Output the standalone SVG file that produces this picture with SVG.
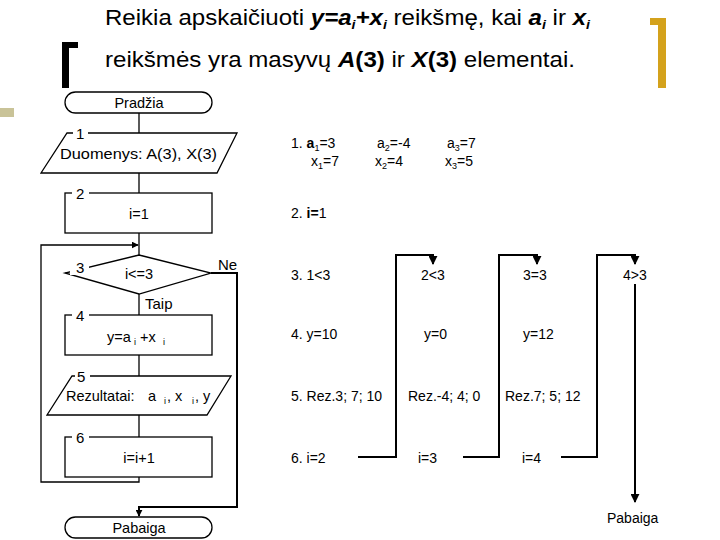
<svg xmlns="http://www.w3.org/2000/svg" width="720" height="540" viewBox="0 0 720 540">
<style>
text{font-family:"Liberation Sans",Arial,sans-serif;fill:#000}
.t{font-size:22px}
.b{font-weight:bold;font-style:italic}
.f{font-size:14.5px}
.r{font-size:14px}
.n{font-size:15px}
.s{stroke:#000;stroke-width:1.3;fill:#fff}
.c{stroke:#000;stroke-width:1.3;fill:none}
.w{stroke:#000;stroke-width:2;fill:none}
</style>
<defs>
<marker id="ah" viewBox="0 0 10 10" refX="9" refY="5" markerWidth="7" markerHeight="7" orient="auto" markerUnits="userSpaceOnUse"><path d="M0,0L10,5L0,10z" fill="#000"/></marker>
<marker id="ah2" viewBox="0 0 10 10" refX="9" refY="5" markerWidth="9" markerHeight="9" orient="auto" markerUnits="userSpaceOnUse"><path d="M0,0L10,5L0,10z" fill="#000"/></marker>
</defs>
<rect width="720" height="540" fill="#fff"/>
<g id="decor">
<path d="M62,42H78V48H69V88H62Z" fill="#000"/>
<path d="M650,18H666V88H658V25H650Z" fill="#d4a21c"/>
<rect x="0" y="108" width="14" height="9" fill="#c9c398"/>
</g>
<g id="title">
<text class="t" x="105" y="25" textLength="485" lengthAdjust="spacingAndGlyphs">Reikia apskaičiuoti <tspan class="b">y=a<tspan font-size="13" dy="4">i</tspan><tspan dy="-4">+x</tspan><tspan font-size="13" dy="4">i</tspan></tspan><tspan dy="-4"> reikšmę, kai </tspan><tspan class="b">a<tspan font-size="13" dy="4">i</tspan></tspan><tspan dy="-4"> ir </tspan><tspan class="b">x<tspan font-size="13" dy="4">i</tspan></tspan></text>
<text class="t" x="105" y="67" textLength="470" lengthAdjust="spacingAndGlyphs">reikšmės yra masyvų <tspan font-weight="bold"><tspan font-style="italic">A</tspan>(3)</tspan> ir <tspan font-weight="bold"><tspan font-style="italic">X</tspan>(3)</tspan> elementai.</text>
</g>
<g id="connectors">
<path class="c" d="M139,113V133"/>
<path class="c" d="M139,173V193"/>
<path class="c" d="M139,233V255"/>
<path class="c" d="M139,294V315"/>
<path class="c" d="M139,355V376"/>
<path class="c" d="M139,415V437"/>
<path class="c" d="M139,477V482H41V245H138" marker-end="url(#ah)"/>
<path class="w" d="M211,273H237V507H139V516" marker-end="url(#ah)"/>
<path class="w" d="M358,457H396V255H433V264" marker-end="url(#ah2)"/>
<path class="w" d="M463,457H499V255H537V264" marker-end="url(#ah2)"/>
<path class="w" d="M561,457H597V255H635V264" marker-end="url(#ah2)"/>
<path class="w" d="M635,284V502" marker-end="url(#ah2)"/>
</g>
<g id="start">
<rect class="s" x="65" y="92" width="147" height="21" rx="10.5"/>
<text class="f" x="139" y="108" text-anchor="middle">Pradžia</text>
</g>
<g id="n1">
<path class="s" d="M67,133H237L217,173H41Z"/>
<rect x="73" y="127" width="15" height="11" fill="#fff"/>
<text class="n" x="76" y="139">1</text>
<text class="f" x="60" y="159" textLength="157" lengthAdjust="spacingAndGlyphs">Duomenys: A(3), X(3)</text>
</g>
<g id="n2">
<rect class="s" x="65" y="193" width="147" height="40"/>
<rect x="72" y="187" width="17" height="11" fill="#fff"/>
<text class="n" x="76" y="199">2</text>
<text class="f" x="139" y="219" text-anchor="middle">i=1</text>
</g>
<g id="n3">
<path class="s" d="M139,255L211,273L139,294L65,273Z"/>
<rect x="70" y="261" width="19" height="14" fill="#fff"/>
<text class="n" x="76" y="273">3</text>
<text class="f" x="139" y="279" text-anchor="middle">i&lt;=3</text>
<text class="n" x="218" y="270">Ne</text>
<text class="n" x="145" y="309">Taip</text>
</g>
<g id="n4">
<rect class="s" x="65" y="315" width="147" height="40"/>
<rect x="72" y="309" width="17" height="11" fill="#fff"/>
<text class="n" x="76" y="321">4</text>
<text class="f" x="107" y="342">y=a<tspan font-size="9" x="134" y="345">i</tspan><tspan x="140" y="342">+x</tspan><tspan font-size="9" x="163" y="345">i</tspan></text>
</g>
<g id="n5">
<path class="s" d="M72,376H231L207,415H47Z"/>
<rect x="75" y="370" width="15" height="11" fill="#fff"/>
<text class="n" x="77" y="382">5</text>
<text class="f" x="66" y="401">Rezultatai:<tspan x="148">a</tspan><tspan font-size="9" x="164" y="404">i</tspan><tspan x="167" y="401">, x</tspan><tspan font-size="9" x="192" y="404">i</tspan><tspan x="195" y="401">, y</tspan></text>
</g>
<g id="n6">
<rect class="s" x="65" y="437" width="147" height="40"/>
<rect x="72" y="431" width="17" height="11" fill="#fff"/>
<text class="n" x="76" y="443">6</text>
<text class="f" x="139" y="463" text-anchor="middle">i=i+1</text>
</g>
<g id="end">
<rect class="s" x="65" y="517" width="147" height="21" rx="10.5"/>
<text class="f" x="139" y="533" text-anchor="middle">Pabaiga</text>
</g>
<g id="trace">
<text class="r" x="291" y="148">1. <tspan font-weight="bold">a</tspan><tspan font-size="9" dy="3">1</tspan><tspan dy="-3">=3</tspan></text>
<text class="r" x="377" y="148">a<tspan font-size="9" dy="3">2</tspan><tspan dy="-3">=-4</tspan></text>
<text class="r" x="447" y="148">a<tspan font-size="9" dy="3">3</tspan><tspan dy="-3">=7</tspan></text>
<text class="r" x="311" y="166">x<tspan font-size="9" dy="3">1</tspan><tspan dy="-3">=7</tspan></text>
<text class="r" x="375" y="166">x<tspan font-size="9" dy="3">2</tspan><tspan dy="-3">=4</tspan></text>
<text class="r" x="445" y="166">x<tspan font-size="9" dy="3">3</tspan><tspan dy="-3">=5</tspan></text>
<text class="r" x="291" y="218">2. <tspan font-weight="bold">i=</tspan>1</text>
<text class="r" x="291" y="280">3. 1&lt;3</text>
<text class="r" x="421" y="280">2&lt;3</text>
<text class="r" x="523" y="280">3=3</text>
<text class="r" x="623" y="280">4&gt;3</text>
<text class="r" x="291" y="339">4. y=10</text>
<text class="r" x="424" y="339">y=0</text>
<text class="r" x="523" y="339">y=12</text>
<text class="r" x="291" y="401">5. Rez.3; 7; 10</text>
<text class="r" x="408" y="401">Rez.-4; 4; 0</text>
<text class="r" x="505" y="401">Rez.7; 5; 12</text>
<text class="r" x="291" y="463">6. i=2</text>
<text class="r" x="418" y="463">i=3</text>
<text class="r" x="522" y="463">i=4</text>
<text class="r" x="607" y="523">Pabaiga</text>
</g>
</svg>
